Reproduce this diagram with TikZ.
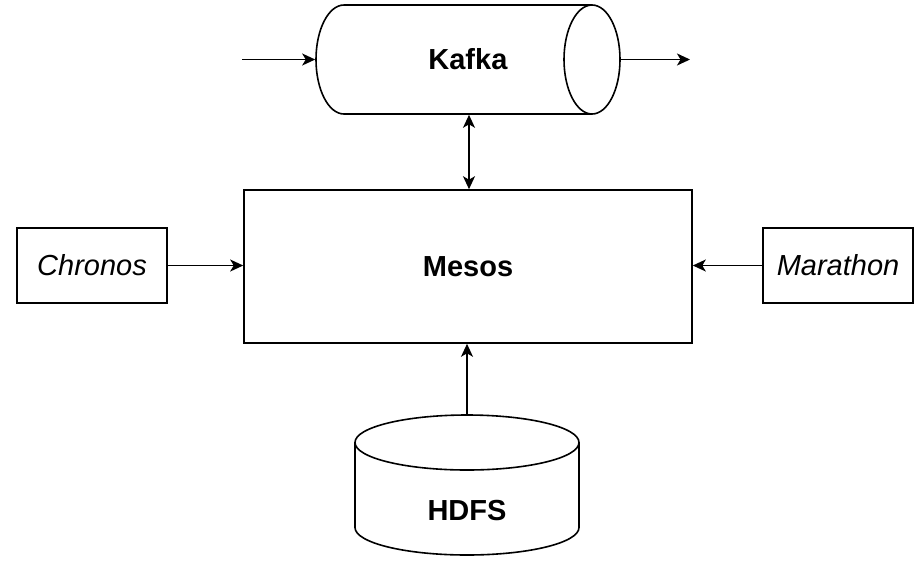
\documentclass[tikz,border=0pt]{standalone}
\usepackage{fontspec}
\setmainfont{Liberation Sans}
\usetikzlibrary{arrows.meta}
\begin{document}
\begin{tikzpicture}[x=1pt,y=-1pt,line width=1.6pt,
  >={Stealth[length=13pt,width=12pt,inset=3.5pt]},
  txt/.style={font=\fontsize{29}{34}\selectfont},
  bx/.style={draw,inner sep=0pt,txt},
  ghost/.style={draw=none,inner sep=0pt,txt}]
\useasboundingbox (0,0) rectangle (915,566);
% Kafka cylinder
\node[ghost,minimum width=304pt,minimum height=109pt] (kafka) at (468,59.5) {\textbf{Kafka}};
\draw (592,5) -- (344,5) arc[start angle=90,end angle=270,x radius=28pt,y radius=54.5pt] -- (592,114);
\draw (592,59.5) ellipse [x radius=28pt,y radius=54.5pt];
\coordinate (kin) at (242,59.5);
\coordinate (kout) at (690,59.5);
% Mesos
\node[bx,minimum width=448pt,minimum height=153pt] (mesos) at (468,266.5) {\textbf{Mesos}};
% Chronos / Marathon
\node[bx,minimum width=150pt,minimum height=75pt] (chronos) at (92,265.5) {\textit{Chronos}};
\node[bx,minimum width=150pt,minimum height=75pt] (marathon) at (838,265.5) {\textit{Marathon}};
% HDFS
\node[ghost,minimum width=224pt,minimum height=140pt] (hdfs) at (467,485) {};
\draw (467,442.5) ellipse [x radius=112pt,y radius=27.5pt];
\draw (355,442.5) -- (355,527.5) arc[start angle=180,end angle=360,x radius=112pt,y radius=27.5pt] -- (579,442.5);
\node[ghost] (hdfslabel) at (467,511) {\textbf{HDFS}};
% connectors
\draw[->] (kin) -- (kafka.west);
\draw[->] (kafka.east) -- (kout);
\draw[<->] (kafka.south -| 469,0) -- (mesos.north -| 469,0);
\draw[->] (chronos.east) -- (chronos.east -| mesos.west);
\draw[->] (marathon.west) -- (marathon.west -| mesos.east);
\draw[->] (hdfs.north) -- (hdfs.north |- mesos.south);
\end{tikzpicture}
\end{document}
